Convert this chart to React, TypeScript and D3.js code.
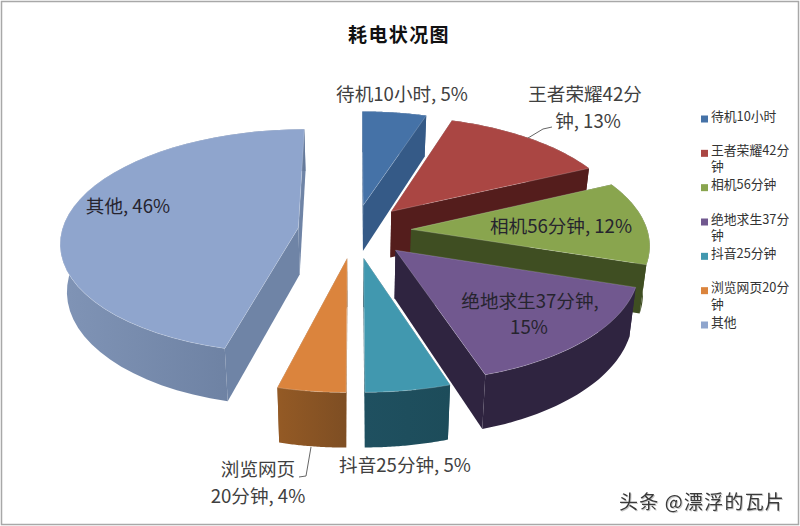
import React from 'react';
import * as d3 from 'd3';

const categories = ['待机10小时', '王者荣耀42分钟', '相机56分钟', '绝地求生37分钟', '抖音25分钟', '浏览网页20分钟', '其他'];
const shares = [5, 13, 12, 15, 5, 4, 46];
const colors = ['#4572a7', '#aa4643', '#89a54e', '#71588f', '#4198af', '#db843d', '#8fa5cd'];
const sideColors = ['#355a87', '#541d1c', '#3f4e22', '#2f2440', '#1f5060', '#8a5526', '#6f84a6'];
const wallFrom = ['#355a87', '#541d1c', '#3f4e22', '#2f2440', '#1f5060', '#945a25', '#8094b6'];
const wallTo = ['#355a87', '#541d1c', '#3f4e22', '#2f2440', '#1d4c5a', '#7e4e23', '#667a9b'];
const legendLines = [['待机10小时'], ['王者荣耀42分', '钟'], ['相机56分钟'], ['绝地求生37分', '钟'], ['抖音25分钟'], ['浏览网页20分', '钟'], ['其他']];

// label layout: x is the middle of the text, last flag = sits on a slice
const labelLayout: [number, number, string, boolean][] = [
  [402, 101, '待机10小时, 5%', false],
  [585, 101, '王者荣耀42分', false],
  [588, 128, '钟, 13%', false],
  [561, 233, '相机56分钟, 12%', true],
  [530, 308, '绝地求生37分钟,', true],
  [529, 334, '15%', true],
  [405, 472, '抖音25分钟, 5%', false],
  [258, 476, '浏览网页', false],
  [258, 503, '20分钟, 4%', false],
  [128, 213, '其他, 46%', true],
];

const W = 800;
const H = 526;
const cx = 354.5;
const cy = 231;
const rx = 236.5; // radius across
const ky = 111; // radius toward the viewer
const persp = 0.12;
const explode = 0.24;
const depth = 47;
const bottomShrink = 0.977;
const font = '"Noto Sans CJK SC", "Noto Sans", sans-serif';

type Pt = [number, number];

// u = right, v = toward the viewer, on the plane of the pie
const project = (u: number, v: number): Pt => {
  const s = 1 / (1 - persp * v);
  return [cx + rx * u * s, cy + ky * v * s];
};
const drop = ([x, y]: Pt, v: number): Pt => {
  const s = 1 / (1 - persp * v);
  return [cx + (x - cx) * bottomShrink, y + depth * s];
};

const arcs = d3.pie<number>().sort(null).value(d => d)(shares);
const line = d3.line<Pt>().curve(d3.curveLinear);

const slices = arcs.map((a, i) => {
  const mid = (a.startAngle + a.endAngle) / 2;
  const ou = explode * Math.sin(mid);
  const ov = -explode * Math.cos(mid);
  const angles = d3.range(0, 41).map(k => a.startAngle + ((a.endAngle - a.startAngle) * k) / 40);
  const rim = angles.map(t => ({ u: ou + Math.sin(t), v: ov - Math.cos(t) }));
  const top = rim.map(p => project(p.u, p.v));
  const bottom = rim.map((p, k) => drop(top[k], p.v));
  const apex = project(ou, ov);
  const apexBottom = drop(apex, ov);
  return { i, mid, ov, top, bottom, apex, apexBottom };
});

// back to front so nearer slices cover the walls behind them
const order = [...slices].sort((a, b) => a.ov - b.ov);

const legendY = d3.scalePoint<string>().domain(categories).range([119, 325]);

const App: React.FC = () => (
  <svg width={W} height={H} viewBox={`0 0 ${W} ${H}`} style={{ position: 'absolute', left: 0, top: 0, background: '#fff' }}>
    <defs>
      {slices.map(s => (
        <linearGradient key={s.i} id={`wall${s.i}`} x1="0" x2="1" y1="0" y2="0">
          <stop offset="0%" stopColor={wallFrom[s.i]} />
          <stop offset="100%" stopColor={wallTo[s.i]} />
        </linearGradient>
      ))}
    </defs>
    <rect x={1.5} y={1.5} width={W - 3} height={H - 3} fill="#fff" stroke="#a8a8a8" strokeWidth={1.5} />
    <text x={399} y={42} textAnchor="middle" fontFamily={font} fontWeight="bold" fontSize={19} letterSpacing={1.4} fill="#111">
      耗电状况图
    </text>

    {order.map(s => {
      const n = s.top.length - 1;
      return (
        <g key={s.i}>
          <path d={line([s.apex, s.top[0], s.bottom[0], s.apexBottom])! + 'Z'} fill={sideColors[s.i]} />
          <path d={line([s.apex, s.top[n], s.bottom[n], s.apexBottom])! + 'Z'} fill={sideColors[s.i]} />
          <path d={line([...s.top, ...[...s.bottom].reverse()])! + 'Z'} fill={`url(#wall${s.i})`} />
          <path d={line([s.apex, ...s.top])! + 'Z'} fill={colors[s.i]} stroke="#fff" strokeWidth={0.4} strokeOpacity={0.5} />
        </g>
      );
    })}

    {/* leader lines */}
    <path d="M528,138L543,129L552,127" fill="none" stroke="#666" strokeWidth={1} />
    <path d="M311,447L306,476L299,477" fill="none" stroke="#666" strokeWidth={1} />

    {labelLayout.map(([x, y, t, inside], i) => (
      <text key={i} x={x} y={y} textAnchor="middle" fontFamily={font} fontSize={18.6} fill={inside ? '#26242e' : '#404040'}>
        {t}
      </text>
    ))}

    {categories.map((c, i) => {
      const y = legendY(c)!;
      return (
        <g key={c}>
          <rect x={701} y={y - 3.5} width={7} height={7} fill={colors[i]} />
          <text fontFamily={font} fontSize={12.8} fill="#333">
            {legendLines[i].map((t, k) => (
              <tspan key={k} x={711} y={y + 1.5 + k * 16.5}>
                {t}
              </tspan>
            ))}
          </text>
        </g>
      );
    })}

    <text
      x={619}
      y={509}
      fontFamily={font}
      fontSize={19}
      letterSpacing={1.2}
      fill="#3a3a3a"
      style={{ filter: 'drop-shadow(1px 1px 0 #c8c8c8)' }}
    >
      头条 @漂浮的瓦片
    </text>
  </svg>
);

export default App;
